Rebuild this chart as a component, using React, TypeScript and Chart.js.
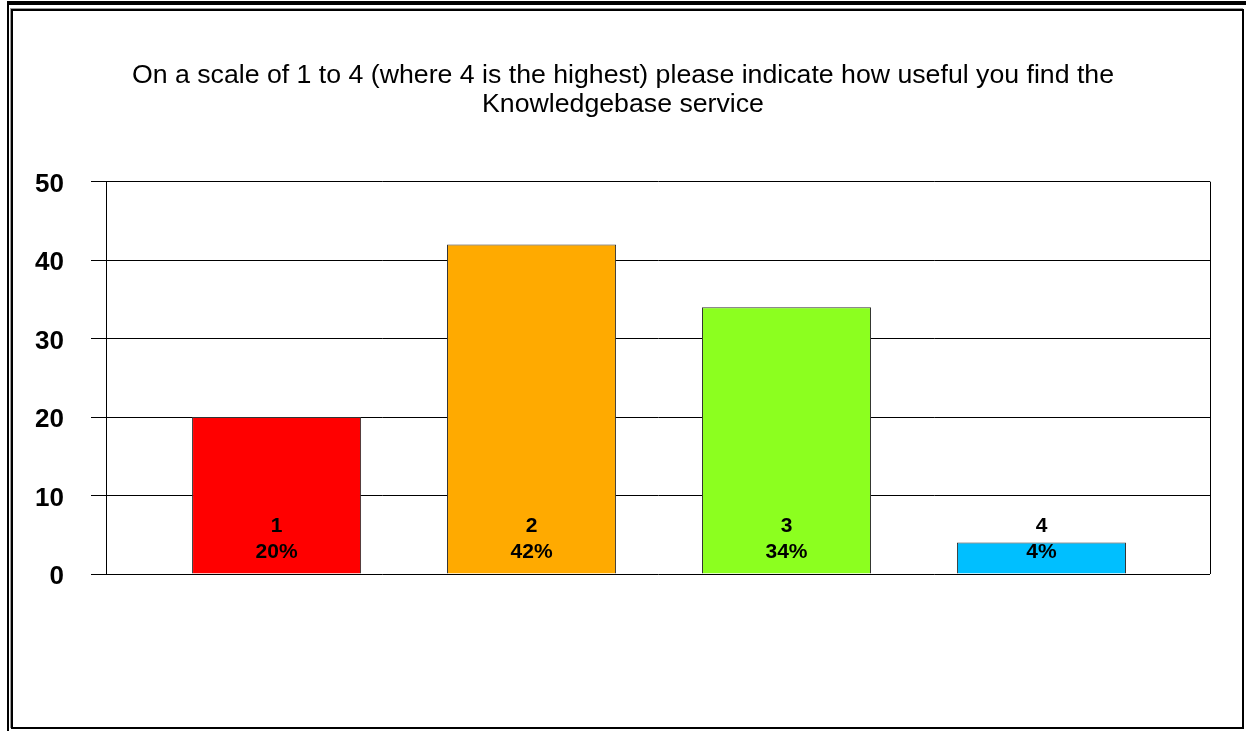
import React, { useEffect, useRef } from "react";
import { Chart, registerables } from "chart.js";

Chart.register(...registerables);

const categories = ["1", "2", "3", "4"];
const values = [20, 42, 34, 4];
const barColors = ["#FF0000", "#FFAA00", "#8CFF1F", "#00BFFF"];
const yTicks = [0, 10, 20, 30, 40, 50];
const titleLines = [
  "On a scale of 1 to 4 (where 4 is the highest) please indicate how useful you find the",
  "Knowledgebase service",
];

const FONT = "Arial, 'Liberation Sans', Helvetica, sans-serif";

const frameAndLabels = {
  id: "frameAndLabels",
  afterDatasetsDraw(chart: any) {
    const { ctx, chartArea } = chart;
    ctx.save();
    ctx.strokeStyle = "#000";
    ctx.lineWidth = 1;
    ctx.beginPath();
    ctx.moveTo(Math.round(chartArea.right) + 0.5, chartArea.top);
    ctx.lineTo(Math.round(chartArea.right) + 0.5, chartArea.bottom);
    ctx.stroke();

    const meta = chart.getDatasetMeta(0);
    const yScale = chart.scales.y;
    const base = yScale.getPixelForValue(0);
    const total = values.reduce((a, b) => a + b, 0);
    ctx.fillStyle = "#000";
    ctx.font = `bold 21px ${FONT}`;
    ctx.textAlign = "center";
    ctx.textBaseline = "middle";
    meta.data.forEach((bar: any, i: number) => {
      const pct = Math.round((values[i] / total) * 100);
      ctx.fillText(categories[i], bar.x, base - 48);
      ctx.fillText(`${pct}%`, bar.x, base - 22);
    });
    ctx.restore();
  },
};

export default function App() {
  const ref = useRef<HTMLCanvasElement | null>(null);

  useEffect(() => {
    if (!ref.current) return;
    const chart = new Chart(ref.current, {
      type: "bar",
      data: {
        datasets: [
          {
            data: values.map((v, i) => ({ x: i, y: v })),
            backgroundColor: barColors,
            borderColor: "#333333",
            borderWidth: 1,
            categoryPercentage: 1,
            barPercentage: 0.663,
          } as any,
        ],
      },
      options: {
        responsive: false,
        animation: false,
        layout: { padding: { left: 0, right: 0, top: 0, bottom: 157 } },
        plugins: {
          legend: { display: false },
          tooltip: { enabled: false },
          title: {
            display: true,
            text: titleLines,
            color: "#000",
            font: { family: FONT, size: 26.7, weight: "normal", lineHeight: 1.08 },
            padding: { top: 61, bottom: 63 },
          },
        },
        scales: {
          x: {
            type: "linear",
            display: false,
            offset: false,
            min: -0.669,
            max: 3.661,
            afterBuildTicks(scale: any) {
              scale.ticks = categories.map((_, i) => ({ value: i }));
            },
          },
          y: {
            min: 0,
            max: 50,
            afterBuildTicks(scale: any) {
              scale.ticks = yTicks.map((v) => ({ value: v }));
            },
            afterFit(scale: any) {
              scale.width = 106;
            },
            ticks: {
              color: "#000",
              padding: 27,
              labelOffset: 3,
              font: { family: FONT, size: 26, weight: "bold" },
            },
            grid: {
              color: "#000",
              lineWidth: 1,
              drawTicks: true,
              tickLength: 15,
              tickColor: "#000",
            },
            border: { display: true, color: "#000", width: 1 },
          },
          yRight: {
            type: "linear",
            position: "right",
            min: 0,
            max: 50,
            afterFit(scale: any) {
              scale.width = 36;
            },
            ticks: { display: false },
            grid: { display: false, drawTicks: false },
            border: { display: false },
          },
        },
      },
      plugins: [frameAndLabels],
    });
    return () => chart.destroy();
  }, []);

  return (
    <div
      style={{
        position: "absolute",
        left: 0,
        top: 0,
        width: 1246,
        height: 731,
        background: "#fff",
        overflow: "hidden",
      }}
    >
      <div style={{ position: "absolute", left: 7, top: 1, width: 1239, height: 4, background: "#000" }} />
      <div style={{ position: "absolute", left: 7, top: 1, width: 2, height: 730, background: "#000" }} />
      <div
        style={{
          position: "absolute",
          left: 11,
          top: 9,
          width: 1233,
          height: 720,
          boxSizing: "border-box",
          border: "2px solid #000",
          boxShadow: "-1px -1px 0 #999",
        }}
      />
      <canvas
        ref={ref}
        width={1246}
        height={731}
        style={{ position: "absolute", left: 0, top: 0, width: 1246, height: 731 }}
      />
    </div>
  );
}
